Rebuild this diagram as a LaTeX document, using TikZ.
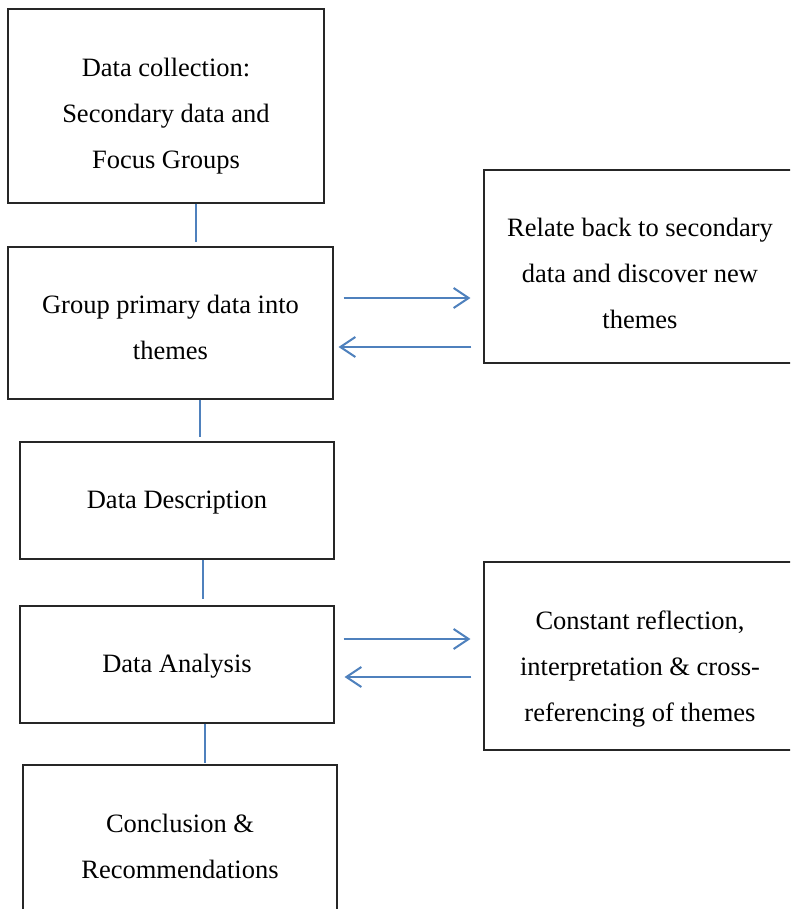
\documentclass[tikz,border=0pt]{standalone}
\usepackage{fontspec}
\setmainfont{Liberation Serif}
\usetikzlibrary{arrows.meta,calc}
\definecolor{linkblue}{HTML}{4F81BD}
\begin{document}
\begin{tikzpicture}[x=1pt,y=1pt,
  box/.style={draw=black!85, line width=1.1pt, rectangle, inner sep=0pt},
  txt/.style={inner sep=0pt, align=center, font=\fontsize{26.5}{46}\selectfont},
  link/.style={draw=linkblue, line width=2pt},
  arr/.style={draw=linkblue, line width=2pt, -{Straight Barb[length=15pt,width=20pt,line width=2pt]}}]
\clip (0,0) rectangle (790,-909);
\fill[white] (0,0) rectangle (790,-909);
\node[box, minimum width=316pt, minimum height=194pt] (b1) at (166,-106) {};
\node[box, minimum width=325pt, minimum height=152pt] (b2) at (170.5,-323) {};
\node[box, minimum width=314pt, minimum height=117pt] (b3) at (177,-500.5) {};
\node[box, minimum width=314pt, minimum height=117pt] (b4) at (177,-664.5) {};
\node[box, minimum width=314pt, minimum height=161pt] (b5) at (180,-845.5) {};
\node[box, minimum width=312pt, minimum height=193pt] (rA) at (640,-266.5) {};
\node[box, minimum width=312pt, minimum height=188pt] (rB) at (640,-656) {};
\node[txt] (t1) at ([yshift=-10pt]b1.center) {Data collection:\\Secondary data and\\Focus Groups};
\node[txt] (t2) at ([yshift=-4.5pt]b2.center) {Group primary data into\\themes};
\node[txt] (t3) at ([yshift=-2pt]b3.center) {Data Description};
\node[txt] (t4) at ([yshift=-2pt]b4.center) {Data Analysis};
\node[txt] (t5) at ([yshift=-0.5pt]b5.center) {Conclusion \&\\Recommendations};
\node[txt] (tA) at ([yshift=-7pt]rA.center) {Relate back to secondary\\data and discover new\\themes};
\node[txt] (tB) at ([yshift=-13pt]rB.center) {Constant reflection,\\interpretation \& cross-\\referencing of themes};
\draw[link] ([xshift=30pt]b1.south) -- ([xshift=25.5pt,yshift=4pt]b2.north);
\draw[link] ([xshift=29.5pt]b2.south) -- ([xshift=23pt,yshift=4pt]b3.north);
\draw[link] ([xshift=26pt]b3.south) -- ([xshift=26pt,yshift=6pt]b4.north);
\draw[link] ([xshift=28pt]b4.south) -- ([xshift=25pt,yshift=1pt]b5.north);
\draw[arr] ($(b2.east)+(10pt,25pt)$) -- ($(rA.west |- b2.east)+(-13pt,25pt)$);
\draw[arr] ($(rA.west |- b2.east)+(-12pt,-24pt)$) -- ($(b2.east)+(5pt,-24pt)$);
\draw[arr] ($(b4.east)+(9pt,25.5pt)$) -- ($(rB.west |- b4.east)+(-13pt,25.5pt)$);
\draw[arr] ($(rB.west |- b4.east)+(-12pt,-12.5pt)$) -- ($(b4.east)+(10pt,-12.5pt)$);
\end{tikzpicture}
\end{document}
